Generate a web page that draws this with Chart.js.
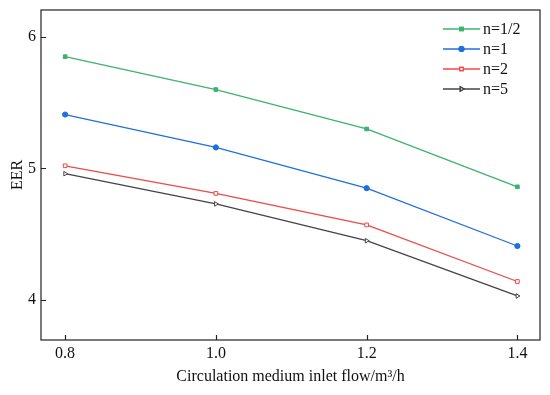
<!DOCTYPE html>
<html>
<head>
<meta charset="utf-8">
<script src="https://cdn.jsdelivr.net/npm/chart.js@4/dist/chart.umd.min.js"></script>
<style>
  html, body { margin: 0; padding: 0; background: #fff; }
  #wrap { width: 550px; height: 395px; }
</style>
</head>
<body>
<div id="wrap"><canvas id="eer-chart"></canvas></div>
<script>
// data
const flows = [0.8, 1.0, 1.2, 1.4];
const eerHalf = [5.85, 5.60, 5.30, 4.86];
const eerOne = [5.41, 5.16, 4.85, 4.41];
const eerTwo = [5.02, 4.81, 4.57, 4.14];
const eerFive = [4.96, 4.73, 4.45, 4.03];
const seriesNames = ['n=1/2', 'n=1', 'n=2', 'n=5'];
const xTicks = [0.8, 1.0, 1.2, 1.4];
const yTicks = [4, 5, 6];

const FONT = '"Liberation Serif", "Times New Roman", serif';

function pts(vals) {
    return flows.map((x, i) => ({ x: x, y: vals[i] }));
}

function makeSet(label, vals, color, style, fill, rot) {
    return {
        label: label,
        data: pts(vals),
        borderColor: color,
        backgroundColor: fill,
        borderWidth: 1.3,
        pointStyle: style,
        pointRotation: rot || 0,
        pointRadius: 2.6,
        pointBorderWidth: 1,
        pointBorderColor: color,
        tension: 0
    };
}

// frame, inward ticks and line+marker legend
const framePlugin = {
    id: 'frame',
    afterDraw(chart) {
        const ctx = chart.ctx;
        const a = chart.chartArea;
        const xs = chart.scales.x, ys = chart.scales.y;
        ctx.save();
        ctx.strokeStyle = '#222';
        ctx.lineWidth = 1.2;
        ctx.strokeRect(a.left, a.top, a.right - a.left, a.bottom - a.top);
        ctx.beginPath();
        xTicks.forEach(v => {
            const px = Math.round(xs.getPixelForValue(v)) + 0.5;
            ctx.moveTo(px, a.bottom);
            ctx.lineTo(px, a.bottom - 5);
        });
        yTicks.forEach(v => {
            const py = Math.round(ys.getPixelForValue(v)) + 0.5;
            ctx.moveTo(a.left, py);
            ctx.lineTo(a.left + 5, py);
        });
        ctx.stroke();

        // legend
        ctx.font = '16px ' + FONT;
        ctx.textBaseline = 'middle';
        chart.data.datasets.forEach((ds, i) => {
            const y = 29 + i * 20;
            ctx.strokeStyle = ds.borderColor;
            ctx.lineWidth = 1.3;
            ctx.beginPath();
            ctx.moveTo(443, y);
            ctx.lineTo(480, y);
            ctx.stroke();
            Chart.helpers.drawPoint(ctx, {
                pointStyle: ds.pointStyle,
                rotation: ds.pointRotation,
                radius: 2.4,
                borderWidth: 1
            }, 461.5, y);
            ctx.fillStyle = ds.backgroundColor;
            ctx.fill();
            ctx.stroke();
            ctx.fillStyle = '#111';
            ctx.fillText(ds.label, 483, y + 1);
        });
        ctx.restore();
    }
};

new Chart(document.getElementById('eer-chart').getContext('2d'), {
    type: 'line',
    data: {
        datasets: [
            makeSet(seriesNames[0], eerHalf, '#3cb371', 'rect', '#3cb371'),
            makeSet(seriesNames[1], eerOne, '#1f6fe0', 'circle', '#1f6fe0'),
            makeSet(seriesNames[2], eerTwo, '#f04848', 'rect', '#ffffff'),
            makeSet(seriesNames[3], eerFive, '#444444', 'triangle', '#ffffff', 90)
        ]
    },
    options: {
        responsive: true,
        maintainAspectRatio: false,
        animation: false,
        layout: { padding: { top: 10, right: 10, left: 0, bottom: 0 } },
        plugins: {
            legend: { display: false },
            tooltip: { enabled: false }
        },
        scales: {
            x: {
                type: 'linear',
                min: 0.768,
                max: 1.43,
                grid: { display: false, drawTicks: false, tickLength: 0 },
                border: { display: false },
                afterBuildTicks: s => { s.ticks = xTicks.map(v => ({ value: v })); },
                afterFit: s => { s.height = 55; s.paddingLeft = 0; s.paddingRight = 0; },
                ticks: {
                    color: '#111',
                    padding: 4,
                    maxRotation: 0,
                    font: { family: FONT, size: 16 },
                    callback: v => v.toFixed(1)
                },
                title: {
                    display: true,
                    text: 'Circulation medium inlet flow/m³/h',
                    color: '#111',
                    font: { family: FONT, size: 16 },
                    padding: { top: 4, bottom: 9 }
                }
            },
            y: {
                min: 3.695,
                max: 6.205,
                grid: { display: false, drawTicks: false, tickLength: 0 },
                border: { display: false },
                afterBuildTicks: s => { s.ticks = yTicks.map(v => ({ value: v })); },
                afterFit: s => { s.width = 41; s.paddingTop = 0; s.paddingBottom = 0; },
                ticks: {
                    color: '#111',
                    padding: 5,
                    font: { family: FONT, size: 16 }
                },
                title: {
                    display: true,
                    text: 'EER',
                    color: '#111',
                    font: { family: FONT, size: 16 },
                    padding: { top: 8, bottom: 2 }
                }
            }
        }
    },
    plugins: [framePlugin]
});
</script>
</body>
</html>
